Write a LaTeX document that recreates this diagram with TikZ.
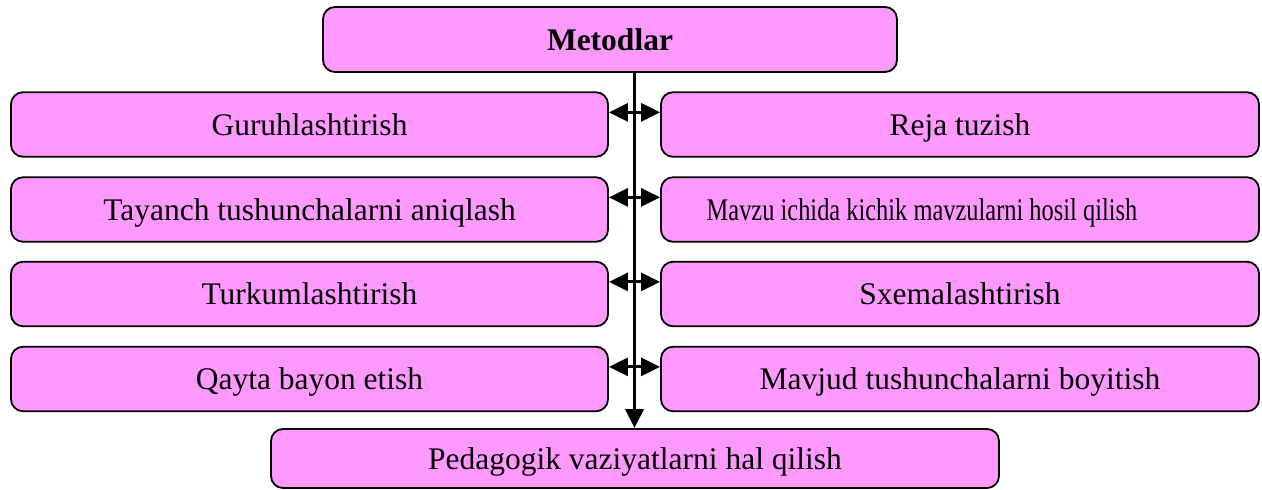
\documentclass[tikz,border=0pt]{standalone}
\usepackage{fontspec}
\setmainfont{Liberation Serif}
\usepackage{graphicx}
\usetikzlibrary{arrows.meta}
\definecolor{boxpink}{RGB}{255,153,255}
\tikzset{
  box/.style={draw=black, line width=1.8pt, fill=boxpink, rounded corners=12pt,
    inner sep=0pt, align=center, text height=21pt, text depth=0pt,
    font=\fontsize{31.5}{36}\selectfont},
  lbox/.style={box, minimum width=597pt, minimum height=64.5pt},
  rbox/.style={box, minimum width=598pt, minimum height=64.5pt},
  spine/.style={line width=3.5pt, -{Triangle[length=19pt,width=18pt]}},
  biarrow/.style={line width=3pt, {Triangle[length=19pt,width=18pt]}-{Triangle[length=19pt,width=18pt]}}
}
\begin{document}
\begin{tikzpicture}[x=1pt,y=-1pt]
\useasboundingbox (0,0) rectangle (1262,490);
\node[box, minimum width=574pt, minimum height=65pt, font=\fontsize{31.5}{36}\selectfont\bfseries] (met) at (610,39.5) {Metodlar};
\node[lbox] (l1) at (309.5,124.5) {Guruhlashtirish};
\node[lbox] (l2) at (309.5,209.5) {Tayanch tushunchalarni aniqlash};
\node[lbox] (l3) at (309.5,294) {Turkumlashtirish};
\node[lbox] (l4) at (309.5,379) {Qayta bayon etish};
\node[rbox] (r1) at (960,124.5) {Reja tuzish};
\node[rbox] (r2) at (960,209.5) {\scalebox{0.775}[1]{Mavzu ichida kichik mavzularni hosil qilish}\hspace{76pt}};
\node[rbox] (r3) at (960,294) {Sxemalashtirish};
\node[rbox] (r4) at (960,379) {Mavjud tushunchalarni boyitish};
\node[box, minimum width=728pt, minimum height=59pt] (ped) at (635,458.5) {Pedagogik vaziyatlarni hal qilish};
\coordinate (sp) at (634.5,0);
\draw[spine] (sp |- met.south) -- (sp |- ped.north);
\foreach \i in {1,2,3,4}{
  \draw[biarrow] ([yshift=-21pt]l\i.north east) -- ([yshift=-21pt]r\i.north west);
}
\end{tikzpicture}
\end{document}
